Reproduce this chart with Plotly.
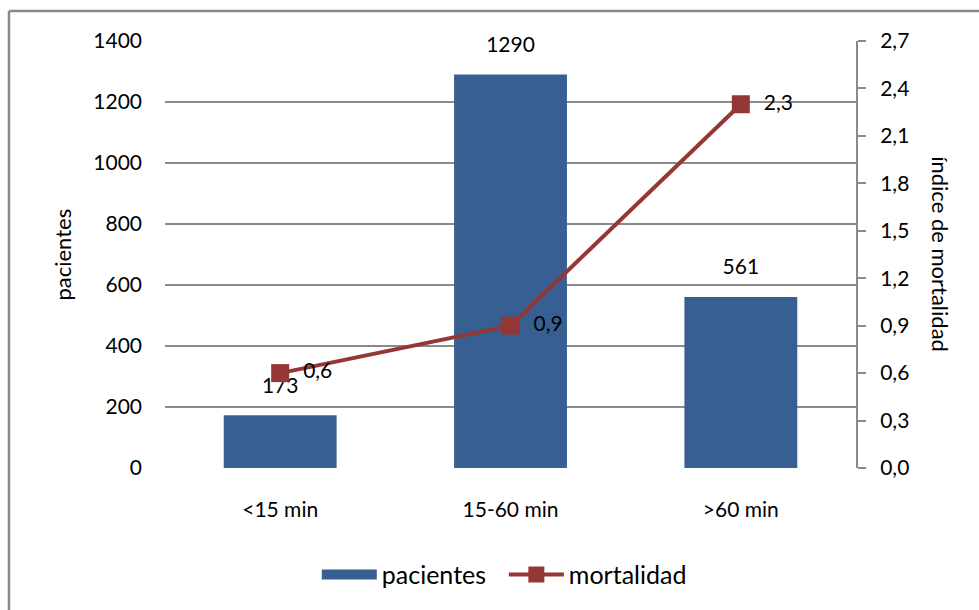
import plotly.graph_objects as go

categories = ["<15 min", "15-60 min", ">60 min"]
pacientes = [173, 1290, 561]
mortalidad = [0.6, 0.9, 2.3]
mort_labels = ["0,6", "0,9", "2,3"]
left_ticks = [0, 200, 400, 600, 800, 1000, 1200, 1400]
right_ticks = [0.0, 0.3, 0.6, 0.9, 1.2, 1.5, 1.8, 2.1, 2.4, 2.7]
right_tick_labels = ["0,0", "0,3", "0,6", "0,9", "1,2", "1,5", "1,8", "2,1", "2,4", "2,7"]

BLUE = "#375F91"
RED = "#953735"
GRID = "#8A8A8A"
FONT = "Lato"
TICK = 21

fig = go.Figure()
fig.add_trace(go.Bar(
    x=categories, y=pacientes, name="pacientes", marker_color=BLUE,
    marker_line_width=0, yaxis="y", showlegend=False,
))
# legend swatch for bars (wide rectangle, as in the original)
fig.add_trace(go.Scatter(
    x=[None], y=[None], mode="lines", name="pacientes\u00a0\u00a0",
    line=dict(color=BLUE, width=14), yaxis="y", hoverinfo="skip",
))
# bar value labels
fig.add_trace(go.Scatter(
    x=categories, y=pacientes, mode="markers+text", text=[str(v) for v in pacientes],
    textposition="top center", marker=dict(size=26, opacity=0), cliponaxis=False,
    textfont=dict(size=TICK, color="#000"), showlegend=False, hoverinfo="skip", yaxis="y",
))
fig.add_trace(go.Scatter(
    x=categories, y=mortalidad, name="mortalidad", mode="lines+markers+text",
    text=["  " + t for t in mort_labels], textposition="middle right", cliponaxis=False,
    textfont=dict(size=TICK, color="#000"),
    line=dict(color=RED, width=4), marker=dict(symbol="square", size=18, color=RED),
    yaxis="y2",
))

fig.update_layout(
    width=979, height=610,
    margin=dict(l=165, r=123, t=41, b=140),
    paper_bgcolor="white", plot_bgcolor="white",
    font=dict(family=FONT, size=TICK, color="#000"),
    bargap=0.51,
    showlegend=True,
    legend=dict(orientation="h", x=0.491, xanchor="center", y=-0.25, yanchor="middle",
                font=dict(size=25), itemwidth=55, traceorder="normal"),
    xaxis=dict(showgrid=False, showline=False, ticks="", ticklabelstandoff=27,
               tickfont=dict(size=TICK), automargin=False),
    yaxis=dict(range=[0, 1400], tickvals=left_ticks, showgrid=True, gridcolor=GRID,
               gridwidth=2, showline=False, zeroline=False, ticks="",
               ticklabelstandoff=22, tickfont=dict(size=TICK), automargin=False),
    yaxis2=dict(range=[0, 2.7], tickvals=right_ticks, ticktext=right_tick_labels,
                overlaying="y", side="right", showgrid=False, zeroline=False,
                showline=True, linecolor=GRID, linewidth=2, ticks="outside",
                ticklen=8, tickcolor=GRID, tickwidth=2, ticklabelstandoff=10,
                tickfont=dict(size=TICK), automargin=False),
    annotations=[
        dict(text="pacientes", xref="paper", yref="paper", x=-0.149, y=0.5,
             xanchor="center", yanchor="middle",
             textangle=-90, showarrow=False, font=dict(size=22)),
        dict(text="índice de mortalidad", xref="paper", yref="paper", x=1.122, y=0.5,
             xanchor="center", yanchor="middle",
             textangle=90, showarrow=False, font=dict(size=22)),
    ],
    shapes=[
        dict(type="line", xref="paper", yref="paper", x0=-0.2258, x1=-0.2258,
             y0=1.07, y1=-0.4, line=dict(color=GRID, width=2.5)),
        dict(type="line", xref="paper", yref="paper", x0=-0.2258, x1=1.2,
             y0=1.07, y1=1.07, line=dict(color=GRID, width=2.5)),
    ],
)

fig.write_html(
    "out.html",
    config={"displayModeBar": False},
    post_script="document.body.style.margin='0';document.body.style.overflow='hidden';",
)
